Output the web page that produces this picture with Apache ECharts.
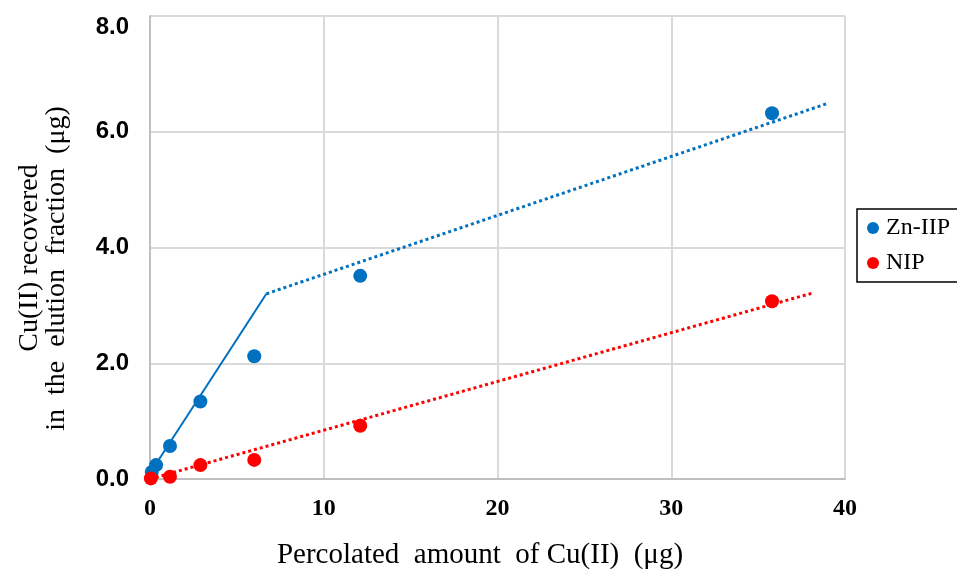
<!DOCTYPE html>
<html>
<head>
<meta charset="utf-8">
<script src="https://cdn.jsdelivr.net/npm/echarts@6/dist/echarts.min.js"></script>
<style>
  html, body { margin: 0; padding: 0; background: #fff; }
  #main { width: 957px; height: 572px; }
</style>
</head>
<body>
<div id="main"></div>
<script>
var myChart = echarts.init(document.getElementById("main"));

// measured points
const znX = [0.1, 0.35, 1.15, 2.9, 6.0, 12.1, 35.8];
const znY = [0.12, 0.24, 0.57, 1.34, 2.12, 3.51, 6.32];
const nipX = [0.05, 1.15, 2.9, 6.0, 12.1, 35.8];
const nipY = [0.01, 0.04, 0.24, 0.33, 0.92, 3.07];

// trend lines (end points)
const znFitLow = [[0, 0.1], [6.7, 3.2]];
const znFitHigh = [[6.7, 3.2], [39.0, 6.49]];
const nipFit = [[0, 0.0], [38.1, 3.21]];

const xTicks = [0, 10, 20, 30, 40];
const yTicks = [0, 2, 4, 6, 8];

const blue = "#0070c0";
const red = "#ff0000";

function pairs(xs, ys) {
  return xs.map((x, i) => [x, ys[i]]);
}

option = {
  animation: false,
  grid: { left: 150, right: 112, top: 16, bottom: 93, outerBoundsMode: "none" },
  legend: {
    orient: "vertical",
    left: 857,
    top: 209,
    data: ["Zn-IIP", "NIP"],
    icon: "circle",
    itemWidth: 12,
    itemHeight: 12,
    itemGap: 11,
    padding: [7, 8, 7, 10],
    borderColor: "#000",
    borderWidth: 1.5,
    textStyle: { fontFamily: "Liberation Serif", fontSize: 24, color: "#000", padding: [0, 0, 0, 2] },
  },
  xAxis: {
    type: "value",
    min: xTicks[0],
    max: xTicks[xTicks.length - 1],
    interval: 10,
    name: "Percolated  amount  of Cu(II)  (μg)",
    nameLocation: "middle",
    nameGap: 62,
    nameTextStyle: { fontFamily: "Liberation Serif", fontSize: 29, color: "#000", padding: [0, 35, 0, 0] },
    axisLine: { show: true, lineStyle: { color: "#bfbfbf", width: 2 } },
    axisTick: { show: false },
    axisLabel: { fontFamily: "Liberation Serif", fontWeight: "bold", fontSize: 24, color: "#000", margin: 18 },
    splitLine: { show: true, lineStyle: { color: "#d9d9d9", width: 2 } },
  },
  yAxis: {
    type: "value",
    min: yTicks[0],
    max: yTicks[yTicks.length - 1],
    interval: 2,
    name: "Cu(II) recovered\nin  the  elution  fraction  (μg)   ",
    nameLocation: "middle",
    nameGap: 80,
    nameTextStyle: { fontFamily: "Liberation Serif", fontSize: 28, color: "#000", lineHeight: 27, padding: [0, 21, 0, 0] },
    axisLine: { show: true, lineStyle: { color: "#bfbfbf", width: 2 } },
    axisTick: { show: false },
    axisLabel: {
      fontFamily: "Liberation Sans", fontWeight: "bold", fontSize: 24, color: "#000", margin: 21,
      formatter: (v) => (v === 8 ? "{top|" + v.toFixed(1) + "}" : v.toFixed(1)),
      rich: { top: { fontFamily: "Liberation Sans", fontWeight: "bold", fontSize: 24, color: "#000", padding: [22, 0, 0, 0] } },
    },
    splitLine: { show: true, lineStyle: { color: "#d9d9d9", width: 2 } },
  },
  series: [
    {
      name: "Zn-IIP fit low",
      type: "line",
      data: znFitLow,
      symbol: "none",
      lineStyle: { color: blue, width: 2 },
      z: 2,
    },
    {
      name: "Zn-IIP fit high",
      type: "line",
      data: znFitHigh,
      symbol: "none",
      lineStyle: { color: blue, width: 3, type: [3, 3] },
      z: 2,
    },
    {
      name: "NIP fit",
      type: "line",
      data: nipFit,
      symbol: "none",
      lineStyle: { color: red, width: 3, type: [3, 3] },
      z: 2,
    },
    {
      name: "Zn-IIP",
      type: "scatter",
      data: pairs(znX, znY),
      symbolSize: 14,
      itemStyle: { color: blue, opacity: 1 },
      clip: false,
      z: 3,
    },
    {
      name: "NIP",
      type: "scatter",
      data: pairs(nipX, nipY),
      symbolSize: 14,
      itemStyle: { color: red, opacity: 1 },
      clip: false,
      z: 4,
    },
  ],
};
myChart.setOption(option);
</script>
</body>
</html>
